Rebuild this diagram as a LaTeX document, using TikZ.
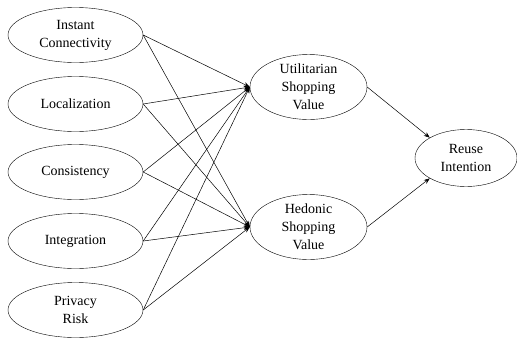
\documentclass[tikz,border=0pt]{standalone}
\usepackage{fontspec}
\setmainfont{Liberation Serif}
\usetikzlibrary{shapes.geometric, arrows.meta, positioning}

\begin{document}
\begin{tikzpicture}[x=1pt, y=-1pt,
        construct/.style={draw, ellipse, inner sep=0pt, align=center,
            font=\fontsize{14}{18}\selectfont},
        left construct/.style={construct, minimum width=135pt, minimum height=55pt},
        mid construct/.style={construct, minimum width=117pt, minimum height=57pt},
        path/.style={-{Stealth[length=6pt, width=4.5pt]}, line width=0.5pt}]
        \useasboundingbox (0, 0) rectangle (517, 338);

        % exogenous constructs
        \node[left construct] (IC) at (75.5, 35) {Instant\\Connectivity};
        \node[left construct] (LO) at (75.5, 104) {Localization};
        \node[left construct] (CO) at (75.5, 172) {Consistency};
        \node[left construct] (IN) at (75.5, 241) {Integration};
        \node[left construct] (PR) at (75.5, 310) {Privacy\\Risk};

        % mediators and outcome
        \node[mid construct] (USV) at (308.5, 87) {Utilitarian\\Shopping\\Value};
        \node[mid construct] (HSV) at (308.5, 227) {Hedonic\\Shopping\\Value};
        \node[construct, minimum width=102pt, minimum height=57pt] (RI) at (466, 158) {Reuse\\Intention};

        \foreach \src in {IC, LO, CO, IN, PR} {
            \draw[path] (\src.east) -- (USV.west);
            \draw[path] (\src.east) -- (HSV.west);
        }
        \draw[path] (USV.east) -- (RI.north west);
        \draw[path] (HSV.east) -- (RI.south west);
    \end{tikzpicture}
\end{document}
